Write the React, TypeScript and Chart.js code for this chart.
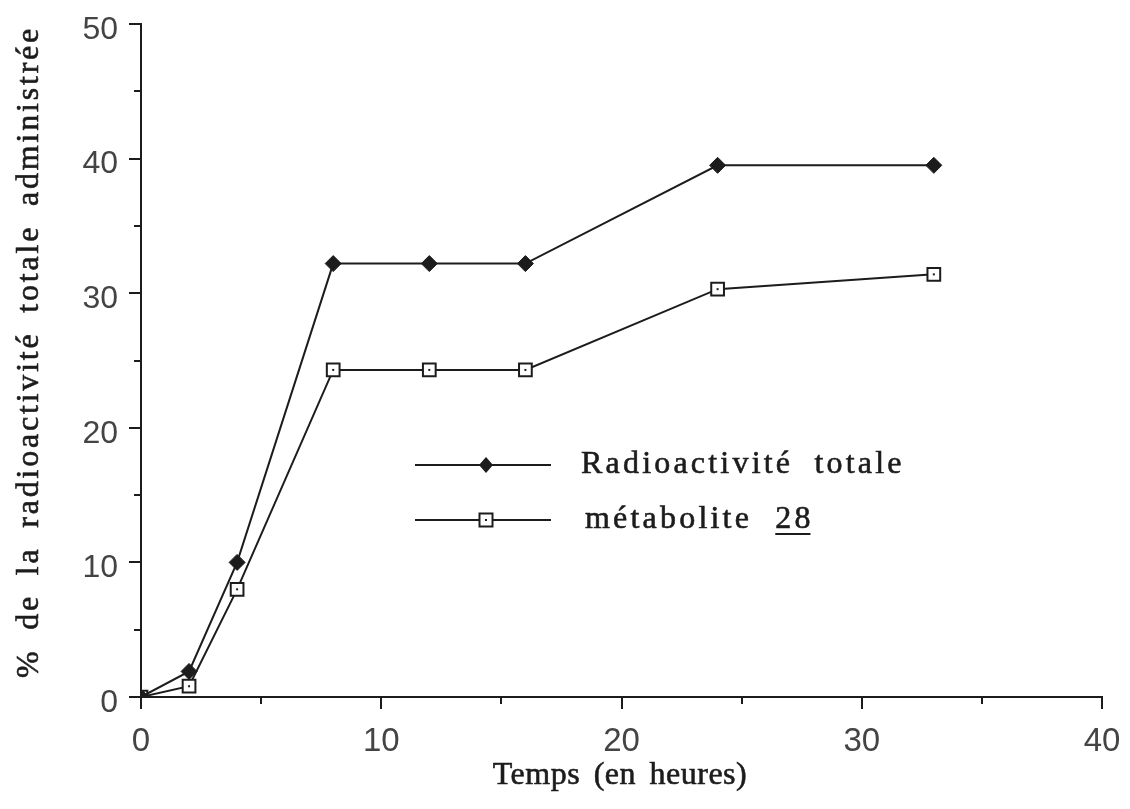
import React, { useEffect, useRef } from 'react';
import { Chart, registerables } from 'chart.js';

Chart.register(...registerables);

// ---- data ----
const hours = [0, 2, 4, 8, 12, 16, 24, 33];
const totalRadio = [0, 1.9, 10, 32.2, 32.2, 32.2, 39.5, 39.5];
const metabolite28 = [0, 0.8, 8, 24.3, 24.3, 24.3, 30.3, 31.4];
const seriesNames = ['Radioactivité totale', 'métabolite'];
const compoundNumber = '28';
const xTitle = 'Temps (en heures)';
const yTitle = '% de la radioactivité totale administrée';
const xRange = [0, 40];
const yRange = [0, 50];

const INK = '#1c1c1c';
const SERIF = '"Liberation Serif", "Times New Roman", serif';
const SANS = '"Liberation Sans", Arial, sans-serif';

function drawDiamond(ctx: CanvasRenderingContext2D, x: number, y: number, rx: number, ry: number) {
  ctx.beginPath();
  ctx.moveTo(x, y - ry);
  ctx.lineTo(x + rx, y);
  ctx.lineTo(x, y + ry);
  ctx.lineTo(x - rx, y);
  ctx.closePath();
  ctx.fillStyle = INK;
  ctx.fill();
}

function drawSquare(ctx: CanvasRenderingContext2D, x: number, y: number, half: number) {
  ctx.fillStyle = '#fff';
  ctx.fillRect(x - half, y - half, half * 2, half * 2);
  ctx.lineWidth = 2;
  ctx.strokeStyle = INK;
  ctx.strokeRect(x - half, y - half, half * 2, half * 2);
  ctx.fillStyle = INK;
  ctx.fillRect(x - 1, y - 1, 2, 2);
}

function boldText(ctx: any, text: string, x: number, y: number) {
  ctx.fillText(text, x, y);
  ctx.lineWidth = 0.6;
  ctx.strokeStyle = INK;
  ctx.strokeText(text, x, y);
}

const decorPlugin = {
  id: 'decor',
  afterDatasetsDraw(chart: any) {
    const ctx: CanvasRenderingContext2D = chart.ctx;
    const meta = chart.getDatasetMeta(1);
    ctx.save();
    ctx.fillStyle = INK;
    meta.data.forEach((pt: any) => {
      ctx.fillRect(pt.x - 1, pt.y - 1, 2, 2);
    });
    ctx.restore();
  },
  afterDraw(chart: any) {
    const ctx: any = chart.ctx;
    const xs = chart.scales.x;
    const ys = chart.scales.y;
    ctx.save();
    ctx.strokeStyle = INK;
    ctx.lineWidth = 2;
    // y ticks (major every 10, minor every 5)
    for (let v = yRange[0]; v <= yRange[1]; v += 5) {
      const y = Math.round(ys.getPixelForValue(v));
      const len = v % 10 === 0 ? 12 : 7;
      ctx.beginPath();
      ctx.moveTo(ys.right - len, y);
      ctx.lineTo(ys.right, y);
      ctx.stroke();
    }
    for (let v = xRange[0]; v <= xRange[1]; v += 5) {
      const x = Math.round(xs.getPixelForValue(v));
      const len = v % 10 === 0 ? 12 : 7;
      ctx.beginPath();
      ctx.moveTo(x, xs.top);
      ctx.lineTo(x, xs.top + len);
      ctx.stroke();
    }

    // axis titles
    ctx.fillStyle = INK;
    ctx.font = `32px ${SERIF}`;
    ctx.textAlign = 'center';
    ctx.textBaseline = 'middle';
    ctx.letterSpacing = '0.5px';
    ctx.wordSpacing = '5px';
    boldText(ctx, xTitle, 620, 776);

    ctx.save();
    ctx.translate(30, 352);
    ctx.rotate(-Math.PI / 2);
    ctx.letterSpacing = '2.8px';
    ctx.wordSpacing = '8px';
    boldText(ctx, yTitle, 0, 0);
    ctx.restore();

    // legend
    const rows = [
      { y: 465, textX: 581 },
      { y: 520, textX: 585 },
    ];
    rows.forEach((r, i) => {
      ctx.strokeStyle = INK;
      ctx.lineWidth = 2;
      ctx.beginPath();
      ctx.moveTo(415, r.y);
      ctx.lineTo(551, r.y);
      ctx.stroke();
      if (i === 0) drawDiamond(ctx, 486, r.y, 7, 8);
      else drawSquare(ctx, 486, r.y, 6.5);
    });
    ctx.fillStyle = INK;
    ctx.textAlign = 'left';
    ctx.textBaseline = 'alphabetic';
    ctx.font = `32px ${SERIF}`;
    ctx.letterSpacing = '3.2px';
    ctx.wordSpacing = '10px';
    boldText(ctx, seriesNames[0], rows[0].textX, rows[0].y + 8);
    const t2 = seriesNames[1] + ' ';
    boldText(ctx, t2, rows[1].textX, rows[1].y + 8);
    const w2 = ctx.measureText(t2).width;
    const nx = rows[1].textX + w2 + 2;
    boldText(ctx, compoundNumber, nx, rows[1].y + 8);
    const wn = ctx.measureText(compoundNumber).width - 3.2;
    ctx.lineWidth = 2;
    ctx.beginPath();
    ctx.moveTo(nx, rows[1].y + 14);
    ctx.lineTo(nx + wn, rows[1].y + 14);
    ctx.stroke();
    ctx.restore();
  },
};

export default function App() {
  const ref = useRef<HTMLCanvasElement | null>(null);
  useEffect(() => {
    if (!ref.current) return;
    const chart = new Chart(ref.current, {
      type: 'line',
      data: {
        datasets: [
          {
            label: seriesNames[0],
            data: hours.map((h, i) => ({ x: h, y: totalRadio[i] })),
            borderColor: INK,
            backgroundColor: INK,
            borderWidth: 2,
            pointStyle: 'rectRot',
            pointRadius: 8,
            pointBorderWidth: 1,
            pointBackgroundColor: INK,
            pointBorderColor: INK,
            tension: 0,
          },
          {
            label: seriesNames[1] + ' ' + compoundNumber,
            data: hours.map((h, i) => ({ x: h, y: metabolite28[i] })),
            borderColor: INK,
            backgroundColor: '#fff',
            borderWidth: 2,
            pointStyle: 'rect',
            pointRadius: 9,
            pointBorderWidth: 2,
            pointBackgroundColor: '#fff',
            pointBorderColor: INK,
            tension: 0,
          },
        ],
      },
      options: {
        animation: false,
        responsive: false,
        maintainAspectRatio: false,
        layout: { padding: { top: 24, right: 28, left: 0, bottom: 0 } },
        plugins: { legend: { display: false }, tooltip: { enabled: false } },
        scales: {
          x: {
            type: 'linear',
            min: xRange[0],
            max: xRange[1],
            ticks: {
              stepSize: 10,
              padding: 0,
              autoSkip: false,
              maxRotation: 0,
              color: '#444',
              font: { family: SANS, size: 33 },
            },
            grid: { display: false, drawTicks: true, tickLength: 25 },
            border: { display: true, color: INK, width: 2 },
            afterFit: (s: any) => { s.height = 112; },
          },
          y: {
            type: 'linear',
            min: yRange[0],
            max: yRange[1],
            ticks: {
              stepSize: 10,
              padding: 0,
              labelOffset: 6,
              color: '#444',
              font: { family: SANS, size: 32 },
            },
            grid: { display: false, drawTicks: true, tickLength: 23 },
            border: { display: true, color: INK, width: 2 },
            afterFit: (s: any) => { s.width = 141; },
          },
        },
      },
      plugins: [decorPlugin],
    } as any);
    return () => chart.destroy();
  }, []);

  return (
    <div style={{ position: 'fixed', left: 0, top: 0, width: 1130, height: 809, background: '#fff' }}>
      <canvas ref={ref} width={1130} height={809} style={{ display: 'block' }} />
    </div>
  );
}
